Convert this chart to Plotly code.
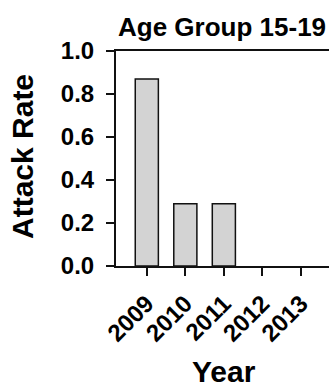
import plotly.graph_objects as go

years = ["2009", "2010", "2011", "2012", "2013"]
attack_rate = [0.87, 0.29, 0.29, 0.0, 0.0]
y_ticks = [0.0, 0.2, 0.4, 0.6, 0.8, 1.0]

FONT = "Liberation Sans, Arial, sans-serif"
L, T, B, W, H = 116, 51, 124, 329, 390
PW, PH = W - L, H - T - B

def px(x):
    return (x - L) / PW

def py(y):
    return (H - B - y) / PH

fig = go.Figure()
fig.add_trace(go.Bar(
    x=years, y=attack_rate, width=0.6,
    marker=dict(color="#d3d3d3",
                line=dict(color="#111111", width=[1.5 if v > 0 else 0 for v in attack_rate])),
))

fig.update_layout(
    width=W, height=H,
    margin=dict(l=L, r=0, t=T, b=B, pad=0),
    paper_bgcolor="white", plot_bgcolor="white",
    showlegend=False,
    font=dict(family=FONT, color="black"),
    annotations=[
        dict(text="Age Group 15-19", xref="paper", yref="paper", x=px(222), y=py(27),
             xanchor="center", yanchor="middle", showarrow=False,
             font=dict(family=FONT, size=26, color="black", weight="bold")),
        dict(text="Attack Rate", xref="paper", yref="paper", x=px(22), y=py(157),
             xanchor="center", yanchor="middle", showarrow=False, textangle=-90,
             font=dict(family=FONT, size=30, color="black", weight="bold")),
        dict(text="Year", xref="paper", yref="paper", x=px(224), y=py(371),
             xanchor="center", yanchor="middle", showarrow=False,
             font=dict(family=FONT, size=30, color="black", weight="bold")),
    ],
)

fig.update_xaxes(
    type="category", range=[-0.8, 4.73], automargin=False,
    showline=True, linecolor="#111111", linewidth=2, mirror=True,
    ticks="outside", ticklen=8, tickwidth=2, tickcolor="#111111",
    tickangle=-45, tickfont=dict(family=FONT, size=24, color="black", weight="bold"),
    ticklabelstandoff=4,
    showgrid=False, zeroline=False,
)
fig.update_yaxes(
    range=[0, 1.0], tickvals=y_ticks, tickformat=".1f", automargin=False,
    showline=True, linecolor="#111111", linewidth=2,
    ticks="outside", ticklen=8, tickwidth=2, tickcolor="#111111",
    tickfont=dict(family=FONT, size=24, color="black", weight="bold"),
    ticklabelstandoff=7,
    showgrid=False, zeroline=False,
)

fig.write_html(
    "out.html",
    config={"displayModeBar": False},
    post_script="document.body.style.margin='0';document.body.style.overflow='hidden';",
)
